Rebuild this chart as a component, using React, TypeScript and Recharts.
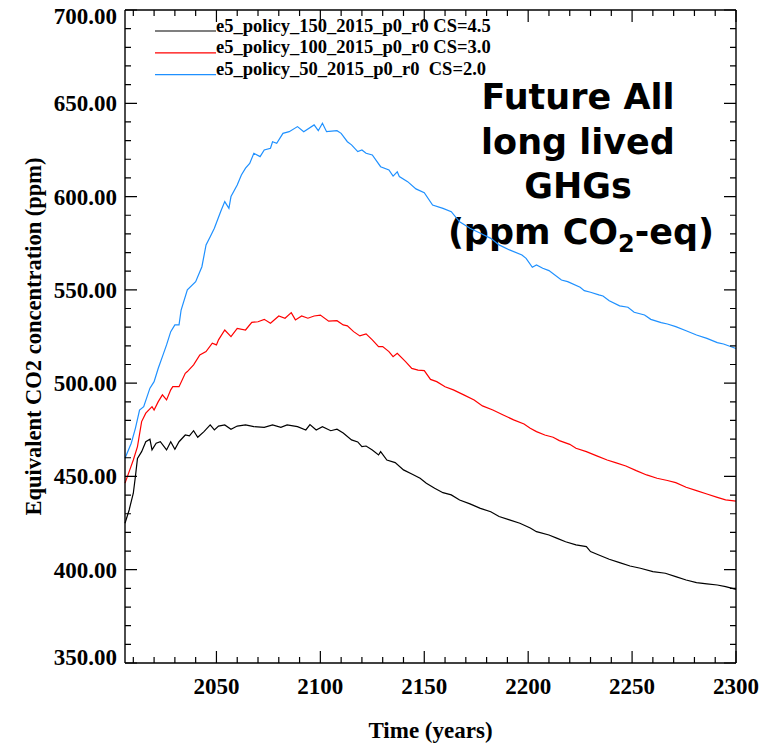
import React from "react";
import { LineChart, Line, XAxis, YAxis, Legend } from "recharts";

const serif = '"Liberation Serif", "Times New Roman", serif';

// year grids and values (ppm CO2-eq)
const blackYears = [2006, 2008, 2010, 2011, 2012, 2014, 2016, 2018, 2019, 2021, 2023, 2026, 2028, 2030, 2032, 2035, 2037, 2039, 2041, 2044, 2047, 2049, 2051, 2054, 2057, 2060, 2064, 2068, 2073, 2077, 2081, 2084, 2089, 2093, 2095, 2098, 2101, 2105, 2108, 2111, 2115, 2118, 2120, 2122, 2125, 2128, 2129, 2132, 2136, 2140, 2144, 2148, 2151, 2155, 2159, 2163, 2167, 2172, 2177, 2182, 2186, 2191, 2196, 2201, 2204, 2210, 2214, 2218, 2223, 2228, 2230, 2234, 2239, 2244, 2249, 2254, 2260, 2266, 2271, 2276, 2281, 2286, 2291, 2295, 2300];
const blackValues = [424.9, 432, 441, 449.9, 459.7, 463.3, 468.6, 469.9, 464.2, 467.8, 468.6, 464.2, 468.6, 464.6, 468.6, 472.2, 471.7, 474.5, 471, 474, 477.6, 474.9, 477, 477.6, 475.3, 477, 477.6, 476.7, 476.3, 477.6, 476.3, 477.6, 476.7, 474.9, 477.8, 474.9, 476.7, 474.5, 475.3, 473.3, 469.6, 468.5, 466, 466.3, 464.2, 461.5, 463.3, 458.8, 457.4, 453.5, 451.3, 449, 446.4, 443.7, 441.3, 440.1, 437.4, 435.3, 432.9, 431.1, 428.5, 426.7, 424.9, 422.4, 420.4, 418.6, 416.8, 415, 413.3, 412.4, 409.7, 407.9, 405.6, 403.8, 402, 400.8, 399, 398.1, 396.3, 394.5, 393.1, 392.4, 391.8, 390.9, 389.5];

const redYears = [2006, 2008, 2010, 2012, 2014, 2016, 2019, 2020, 2022, 2024, 2026, 2028, 2029, 2032, 2035, 2036, 2039, 2042, 2045, 2048, 2050, 2051, 2054, 2057, 2060, 2064, 2067, 2070, 2073, 2076, 2080, 2083, 2086, 2088, 2091, 2094, 2097, 2100, 2104, 2108, 2111, 2113, 2116, 2119, 2122, 2125, 2128, 2130, 2133, 2135, 2137, 2141, 2144, 2147, 2150, 2153, 2156, 2160, 2164, 2169, 2174, 2178, 2183, 2188, 2193, 2198, 2201, 2204, 2208, 2212, 2215, 2220, 2223, 2228, 2233, 2238, 2242, 2247, 2252, 2257, 2262, 2267, 2271, 2276, 2281, 2286, 2291, 2295, 2300];
const redValues = [446.4, 452.6, 458.8, 466, 479.4, 483.9, 487.4, 485.6, 490.1, 493.7, 491, 496.4, 498.1, 498.1, 505.3, 506.2, 509.8, 515.1, 516.9, 521.4, 520.5, 523.2, 528.5, 524.9, 529.4, 528.5, 532.6, 532.9, 534.2, 532.1, 536, 534.8, 537.8, 533.9, 536, 534.8, 536, 536.5, 533.2, 533.5, 531.2, 530.7, 527.6, 525.3, 526.4, 523.2, 519.6, 519.6, 516.9, 514.2, 516, 511.5, 507.9, 507, 506.7, 502, 500.8, 498.1, 496.4, 493.7, 491, 487.8, 485.6, 482.9, 480.3, 478.1, 475.8, 474, 472.2, 471, 469.2, 467.2, 465.1, 463.3, 461, 458.8, 457.4, 455.6, 453.1, 450.8, 449, 447.8, 446.7, 444.2, 442.4, 440.6, 438.8, 437.4, 436.8];

const blueYears = [2006, 2009, 2011, 2013, 2015, 2018, 2020, 2022, 2024, 2026, 2028, 2030, 2032, 2033, 2036, 2040, 2043, 2045, 2047, 2049, 2052, 2054, 2056, 2057, 2060, 2062, 2064, 2066, 2068, 2071, 2073, 2076, 2077, 2079, 2082, 2085, 2089, 2092, 2097, 2099, 2101, 2103, 2108, 2110, 2113, 2115, 2118, 2120, 2122, 2125, 2129, 2133, 2135, 2137, 2138, 2142, 2146, 2150, 2154, 2159, 2163, 2167, 2172, 2177, 2182, 2186, 2191, 2197, 2199, 2202, 2204, 2207, 2210, 2216, 2219, 2225, 2227, 2230, 2234, 2236, 2239, 2244, 2248, 2251, 2256, 2259, 2264, 2267, 2271, 2276, 2281, 2286, 2291, 2294, 2300];
const blueValues = [459.7, 467.8, 475.8, 485.6, 487.4, 497.3, 500.8, 508, 514.2, 520.5, 527.6, 531.2, 531.2, 539.2, 550, 554.4, 562.4, 574.1, 578.5, 583, 591.9, 597.3, 593.7, 600, 606.2, 611.6, 615.2, 617.8, 623.2, 621.4, 625, 625.9, 629.4, 628.6, 633.9, 634.8, 637.5, 634.8, 638.4, 635.3, 639.3, 634.8, 635.3, 633.9, 629.4, 627.7, 624.1, 625, 623.2, 622.3, 616, 614.3, 611, 613.3, 610.7, 608, 604.1, 602.1, 595.5, 593.7, 591.9, 586.5, 583, 580.3, 577.6, 574.1, 571.4, 568.7, 566.9, 562.1, 563.3, 561.6, 560.3, 555.3, 554.4, 551.4, 549.6, 548.7, 547.3, 546.7, 544.2, 541.4, 540.7, 538, 536.5, 534.2, 532.4, 531.7, 530.3, 528.1, 525.8, 524, 521.7, 521, 518.6];

const seriesNames = [
  "e5_policy_150_2015_p0_r0 CS=4.5",
  "e5_policy_100_2015_p0_r0 CS=3.0",
  "e5_policy_50_2015_p0_r0  CS=2.0",
];
const seriesColors = ["#000000", "#ff0000", "#1e90ff"];

const xTicks = [2010, 2020, 2030, 2040, 2050, 2060, 2070, 2080, 2090, 2100, 2110, 2120, 2130, 2140, 2150, 2160, 2170, 2180, 2190, 2200, 2210, 2220, 2230, 2240, 2250, 2260, 2270, 2280, 2290, 2300];
const yTicks = [350, 360, 370, 380, 390, 400, 410, 420, 430, 440, 450, 460, 470, 480, 490, 500, 510, 520, 530, 540, 550, 560, 570, 580, 590, 600, 610, 620, 630, 640, 650, 660, 670, 680, 690, 700];

const toRows = (years: number[], values: number[]) =>
  years.map((year, i) => ({ year, ppm: values[i] }));

const blackData = toRows(blackYears, blackValues);
const redData = toRows(redYears, redValues);
const blueData = toRows(blueYears, blueValues);

// chart sits in the 8px body margin, so the plot box is 2..655 x 117..728 in svg space
const PLOT_TOP = 2;
const PLOT_RIGHT = 728;
const MAJOR = 12;
const MINOR = 6;
const labelFont = { fontFamily: serif, fontWeight: 700, fontSize: 23, fill: "#000" };

// left tick: inward marks on the left and right edges, label on majors, top frame at 700
const LeftTick = ({ x, y, payload }: any) => {
  const v = Number(payload.value);
  const len = v % 50 === 0 ? MAJOR : MINOR;
  const nudge = v === 700 ? 6 : v === 350 ? -6 : 0;
  return (
    <g>
      <path d={`M${x},${y}h${len}M${PLOT_RIGHT},${y}h${-len}`} fill="none" stroke="#000" strokeWidth={1.2} />
      {v === 700 && <path d={`M${x},${y}H${PLOT_RIGHT}`} fill="none" stroke="#000" strokeWidth={1.4} />}
      {len === MAJOR && (
        <text x={x - 8} y={y + nudge} dy="0.35em" textAnchor="end" {...labelFont}>
          {v.toFixed(2)}
        </text>
      )}
    </g>
  );
};

// bottom tick: inward marks on the bottom and top edges, label on majors, right frame at 2300
const BottomTick = ({ x, y, payload }: any) => {
  const v = Number(payload.value);
  const len = v % 50 === 0 ? MAJOR : MINOR;
  return (
    <g>
      <path d={`M${x},${y}v${-len}M${x},${PLOT_TOP}v${len}`} fill="none" stroke="#000" strokeWidth={1.2} />
      {v === 2300 && <path d={`M${x},${y}V${PLOT_TOP}`} fill="none" stroke="#000" strokeWidth={1.4} />}
      {len === MAJOR && (
        <text x={x} y={y + 31} textAnchor="middle" {...labelFont}>
          {v}
        </text>
      )}
    </g>
  );
};

const renderLegend = ({ payload }: any) => {
  const items = [...(payload || [])].sort(
    (a: any, b: any) => seriesNames.indexOf(a.value) - seriesNames.indexOf(b.value)
  );
  return (
    <svg width={360} height={80} style={{ overflow: "visible" }}>
      {items.map((p: any, i: number) => {
        const y = 11 + i * 21.8;
        return (
          <g key={p.value}>
            <line x1={0} x2={61} y1={y} y2={y} stroke={p.color} strokeWidth={1.2} />
            <text x={61} y={y + 0.5} fontFamily={serif} fontWeight={700} fontSize={18.5} fill="#000" style={{ whiteSpace: "pre" }}>
              {p.value}
            </text>
          </g>
        );
      })}
    </svg>
  );
};

const titleLines = ["Future All", "long lived", "GHGs"];
const titleFont = { fontFamily: '"DejaVu Sans", sans-serif', fontWeight: 700, fontSize: 35, fill: "#000" };

export default function App() {
  return (
    <LineChart width={765} height={736} margin={{ top: 2, right: 37, bottom: 0, left: 0 }}>
      <XAxis
        dataKey="year"
        type="number"
        domain={[2006, 2300]}
        ticks={xTicks}
        interval={0}
        height={81}
        tickSize={0}
        tickMargin={0}
        tickLine={false}
        axisLine={{ stroke: "#000", strokeWidth: 1.4 }}
        tick={<BottomTick />}
        label={{
          value: "Time (years)",
          position: "insideBottom",
          offset: 6,
          style: { fontFamily: serif, fontWeight: 700, fontSize: 23, fill: "#000" },
        }}
      />
      <YAxis
        type="number"
        domain={[350, 700]}
        ticks={yTicks}
        interval={0}
        width={117}
        tickSize={0}
        tickMargin={0}
        tickLine={false}
        axisLine={{ stroke: "#000", strokeWidth: 1.4 }}
        tick={<LeftTick />}
        label={{
          value: "Equivalent CO2 concentration (ppm)",
          angle: -90,
          position: "insideLeft",
          offset: 25,
          textAnchor: "middle",
          style: { fontFamily: serif, fontWeight: 700, fontSize: 22.5, fill: "#000" },
        }}
      />
      <Legend
        layout="vertical"
        align="center"
        verticalAlign="middle"
        content={renderLegend}
        wrapperStyle={{ left: 147, top: 12, width: 360, height: 80 }}
      />
      <Line data={blackData} dataKey="ppm" name={seriesNames[0]} stroke={seriesColors[0]} strokeWidth={1.2} dot={false} type="linear" isAnimationActive={false} />
      <Line data={redData} dataKey="ppm" name={seriesNames[1]} stroke={seriesColors[1]} strokeWidth={1.2} dot={false} type="linear" isAnimationActive={false} />
      <Line data={blueData} dataKey="ppm" name={seriesNames[2]} stroke={seriesColors[2]} strokeWidth={1.2} dot={false} type="linear" isAnimationActive={false} />
      <g>
        {titleLines.map((t, i) => (
          <text key={t} x={570} y={101 + i * 44.5} textAnchor="middle" {...titleFont}>
            {t}
          </text>
        ))}
        <text x={573} y={236} textAnchor="middle" {...titleFont}>
          (ppm CO
          <tspan fontSize={24} dy={8}>2</tspan>
          <tspan dy={-8}>-eq)</tspan>
        </text>
      </g>
    </LineChart>
  );
}
